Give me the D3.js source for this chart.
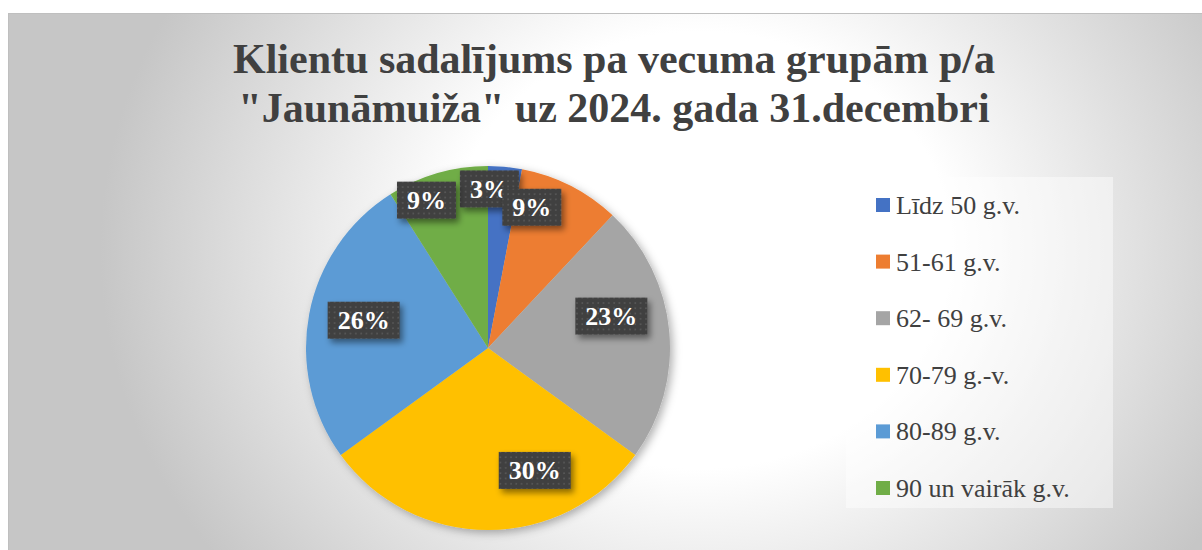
<!DOCTYPE html>
<html>
<head>
<meta charset="utf-8">
<script src="https://cdn.jsdelivr.net/npm/d3@7"></script>
<style>
  body { margin: 0; background: #fff; }
  svg { display: block; }
</style>
</head>
<body>
<div class="container"></div>
<script>
(function(){
  // data
  const categories = ['Līdz 50 g.v.', '51-61 g.v.', '62- 69 g.v.', '70-79 g.-v.', '80-89 g.v.', '90 un vairāk g.v.'];
  const shares = [3, 9, 23, 30, 26, 9];
  const colors = ['#4472C4', '#ED7D31', '#A5A5A5', '#FFC000', '#5B9BD5', '#70AD47'];
  const titleLines = ['Klientu sadalījums pa vecuma grupām p/a', '"Jaunāmuiža" uz 2024. gada 31.decembri'];

  const config = {w: 1202, h: 550, cx: 488, cy: 348, r: 182};

  // label placement tweaks (angle shift in degrees, radius fraction), like Excel best fit
  const labelShift = [-4.9, -9.7, -9.1, -20.9, 1.8, -6.4];
  const labelRadius = [0.874, 0.81, 0.70, 0.72, 0.70, 0.88];

  const svg = d3.select('.container').append('svg')
    .attr('width', config.w)
    .attr('height', config.h);

  const defs = svg.append('defs');

  const bg = defs.append('radialGradient')
    .attr('id', 'bg')
    .attr('gradientUnits', 'userSpaceOnUse')
    .attr('cx', 0).attr('cy', 0).attr('r', 1)
    .attr('gradientTransform', 'translate(700,250) scale(600,520)');
  bg.append('stop').attr('offset', 0).attr('stop-color', '#ffffff');
  bg.append('stop').attr('offset', 0.42).attr('stop-color', '#ffffff');
  bg.append('stop').attr('offset', 1).attr('stop-color', '#c6c6c6');

  const shadow = defs.append('filter').attr('id', 'shadow')
    .attr('x', '-20%').attr('y', '-20%').attr('width', '140%').attr('height', '140%');
  shadow.append('feDropShadow')
    .attr('dx', 3).attr('dy', 3).attr('stdDeviation', 4)
    .attr('flood-color', '#000').attr('flood-opacity', 0.3);

  const lblShadow = defs.append('filter').attr('id', 'lblShadow')
    .attr('x', '-30%').attr('y', '-30%').attr('width', '160%').attr('height', '170%');
  lblShadow.append('feDropShadow')
    .attr('dx', 3).attr('dy', 4).attr('stdDeviation', 3)
    .attr('flood-color', '#000').attr('flood-opacity', 0.45);

  const dots = defs.append('pattern')
    .attr('id', 'dots')
    .attr('patternUnits', 'userSpaceOnUse')
    .attr('width', 5.3).attr('height', 5.3);
  dots.append('rect').attr('width', 5.3).attr('height', 5.3).attr('fill', '#404040');
  dots.append('rect').attr('x', 2).attr('y', 2).attr('width', 1.6).attr('height', 1.6).attr('fill', '#5a5a5a');

  // chart area
  svg.append('rect')
    .attr('x', 8.5).attr('y', 13.5)
    .attr('width', config.w + 20).attr('height', config.h + 20)
    .attr('fill', 'url(#bg)')
    .attr('stroke', '#bfbfbf')
    .attr('stroke-width', 1);

  // title
  svg.append('text')
    .attr('x', 614)
    .attr('y', 73)
    .attr('text-anchor', 'middle')
    .attr('font-family', '"Liberation Serif", "Times New Roman", serif')
    .attr('font-weight', 'bold')
    .attr('font-size', 42)
    .attr('fill', '#404040')
    .selectAll('tspan')
    .data(titleLines)
    .enter().append('tspan')
      .attr('x', 614)
      .attr('dy', (d, i) => i ? 49 : 0)
      .text(d => d);

  // pie
  const pie = d3.pie().sort(null).value(d => d);
  const arcs = pie(shares);
  const arc = d3.arc().innerRadius(0).outerRadius(config.r);

  const g = svg.append('g')
    .attr('transform', `translate(${config.cx},${config.cy})`);

  g.append('g')
    .attr('filter', 'url(#shadow)')
    .selectAll('path')
    .data(arcs)
    .enter().append('path')
      .attr('d', arc)
      .attr('fill', (d, i) => colors[i]);

  // labels
  const labels = g.selectAll('g.label')
    .data(arcs)
    .enter().append('g')
      .attr('class', 'label')
      .attr('transform', (d, i) => {
        const a = (d.startAngle + d.endAngle) / 2 + labelShift[i] * Math.PI / 180;
        const rr = labelRadius[i] * config.r;
        return `translate(${Math.sin(a) * rr},${-Math.cos(a) * rr})`;
      });

  const lblText = labels.append('text')
    .attr('text-anchor', 'middle')
    .attr('y', 9)
    .attr('font-family', '"Liberation Serif", "Times New Roman", serif')
    .attr('font-weight', 'bold')
    .attr('font-size', 26)
    .attr('fill', '#ffffff')
    .text(d => d.data + '%');

  labels.each(function(){
    const node = d3.select(this);
    const bb = node.select('text').node().getBBox();
    const padX = 10, h = 37;
    node.insert('rect', 'text')
      .attr('x', bb.x - padX)
      .attr('y', -h / 2)
      .attr('width', bb.width + padX * 2)
      .attr('height', h)
      .attr('fill', 'url(#dots)')
      .attr('filter', 'url(#lblShadow)');
  });

  // legend
  const legend = svg.append('g')
    .attr('transform', 'translate(846,177)');

  legend.append('rect')
    .attr('width', 267)
    .attr('height', 331)
    .attr('fill', '#ffffff')
    .attr('fill-opacity', 0.45);

  const items = legend.selectAll('g.item')
    .data(categories)
    .enter().append('g')
      .attr('class', 'item')
      .attr('transform', (d, i) => `translate(30,${21 + i * 56.6})`);

  items.append('rect')
    .attr('width', 14)
    .attr('height', 14)
    .attr('fill', (d, i) => colors[i]);

  items.append('text')
    .attr('x', 20)
    .attr('y', 16)
    .attr('font-family', '"Liberation Serif", "Times New Roman", serif')
    .attr('font-size', 26)
    .attr('fill', '#404040')
    .text(d => d);
})();
</script>
</body>
</html>
